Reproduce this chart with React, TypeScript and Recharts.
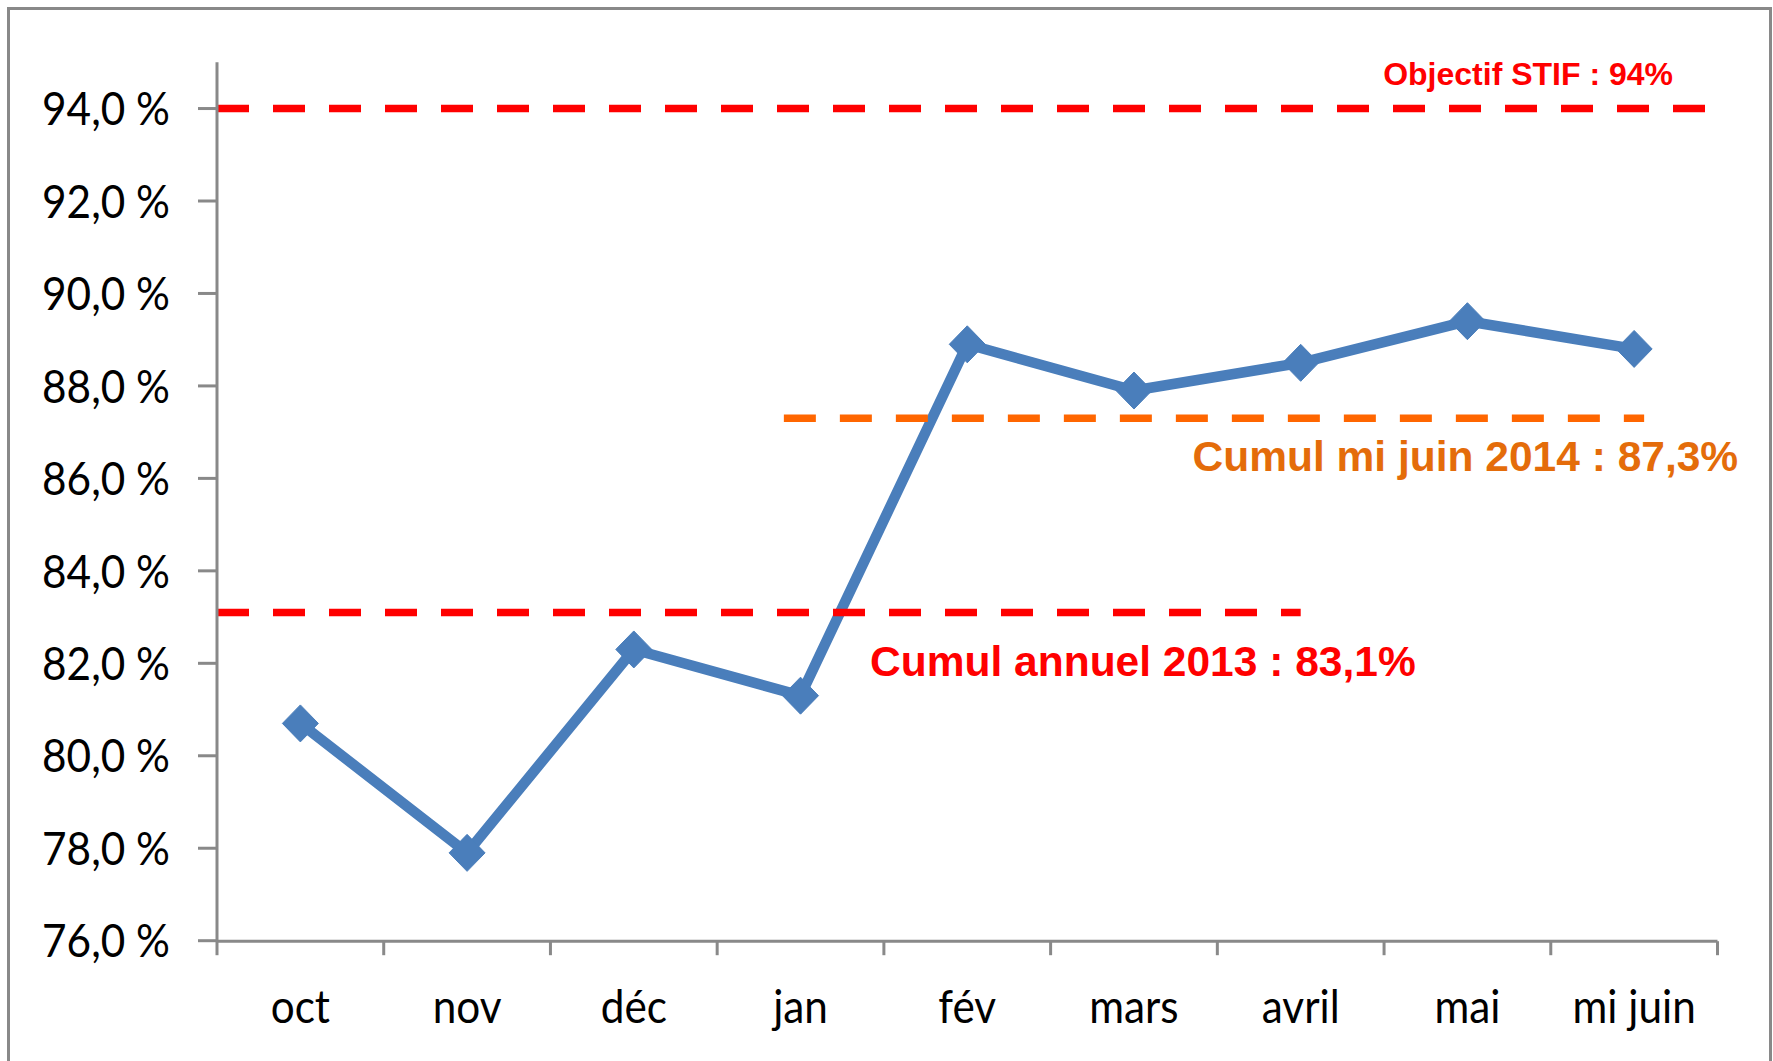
import React from 'react';
import { LineChart, Line, XAxis, YAxis, ReferenceLine } from 'recharts';

// ---- data ----
const months = ['oct', 'nov', 'déc', 'jan', 'fév', 'mars', 'avril', 'mai', 'mi juin'];
const taux = [80.7, 77.9, 82.3, 81.3, 88.9, 87.9, 88.5, 89.4, 88.8];
const yTicks = [76, 78, 80, 82, 84, 86, 88, 90, 92, 94];
const yDomain = [76, 95];
const bandEdges = [0, 1, 2, 3, 4, 5, 6, 7, 8, 9];
const bandDomain = [0, 9];

const objectifValue = 94;
const objectifText = 'Objectif STIF : 94%';
const cumul2013Value = 83.1;
const cumul2013Span = [0, 6.5];
const cumul2013Text = 'Cumul annuel 2013 : 83,1%';
const cumul2014Value = 87.3;
const cumul2014Span = [3.4, 8.56];
const cumul2014Text = 'Cumul mi juin 2014 : 87,3%';

const data = months.map((m, i) => ({ month: m, idx: i, value: taux[i] }));

// ---- styles ----
const W = 1773;
const H = 1061;
const AXIS = '#898989';
const BLUE = '#4A7EBB';
const RED = '#FF0000';
const ORANGE_LINE = '#FF6600';
const ORANGE_TEXT = '#E46C0A';
const TICK_FONT = 'Lato, "Open Sans", sans-serif';
const NOTE_FONT = '"Liberation Sans", Arial, sans-serif';

const fmt = (v: number) => v.toFixed(1).replace('.', ',') + ' %';

const YTick = (props: any) => {
  const { x, y, payload } = props;
  return (
    <g transform={`translate(${x},${y})`}>
      <text x={0} y={0} dy="0.355em" textAnchor="end" fontFamily={TICK_FONT} fontSize={47} fill="#000" transform="scale(0.9,1)">
        {fmt(payload.value)}
      </text>
    </g>
  );
};

const XTick = (props: any) => {
  const { x, y, payload } = props;
  return (
    <g transform={`translate(${x},${y})`}>
      <text x={0} y={0} dy={82} textAnchor="middle" fontFamily={TICK_FONT} fontSize={47} fill="#000" transform="scale(0.9,1)">
        {payload.value}
      </text>
    </g>
  );
};

const NoLabel = () => <g />;

const Diamond = (props: any) => {
  const { cx, cy } = props;
  if (cx == null || cy == null) return null;
  const hw = 18;
  const hh = 18.5;
  return (
    <polygon
      points={`${cx},${cy - hh} ${cx + hw},${cy} ${cx},${cy + hh} ${cx - hw},${cy}`}
      fill={BLUE}
      stroke={BLUE}
      strokeWidth={1}
      strokeLinejoin="round"
    />
  );
};

const noteLabel = (text: string, color: string, size: number, dx: number, dy: number) => (props: any) => {
  const vb = props.viewBox || {};
  const x = (vb.x || 0) + (vb.width || 0) + dx;
  const y = (vb.y || 0) + dy;
  return (
    <text x={x} y={y} textAnchor="end" fill={color} fontSize={size} fontWeight="bold" fontFamily={NOTE_FONT}>
      {text}
    </text>
  );
};

export default function App() {
  return (
    <div style={{ position: 'absolute', left: 0, top: 0, width: W, height: H, overflow: 'hidden', background: '#fff' }}>
      <div
        style={{
          position: 'absolute',
          left: 7,
          top: 7,
          width: W - 8,
          height: H + 50,
          border: `3px solid ${AXIS}`,
          boxSizing: 'border-box',
        }}
      />
      <div style={{ position: 'absolute', left: 0, top: 0 }}>
        <LineChart width={W} height={H} data={data} margin={{ top: 62.3, right: 55.5, bottom: 0, left: 0 }}>
          <XAxis
            xAxisId="cat"
            dataKey="month"
            type="category"
            scale="band"
            height={0.5}
            axisLine={false}
            tickLine={false}
            tickSize={0}
            tickMargin={0}
            interval={0}
            tick={<XTick />}
          />
          <XAxis
            xAxisId="num"
            dataKey="idx"
            type="number"
            domain={bandDomain}
            ticks={bandEdges}
            allowDataOverflow
            interval={0}
            height={119.8}
            tick={<NoLabel />}
            tickSize={14}
            axisLine={{ stroke: AXIS, strokeWidth: 3 }}
            tickLine={{ stroke: AXIS, strokeWidth: 3 }}
          />
          <YAxis
            domain={yDomain}
            ticks={yTicks}
            type="number"
            allowDataOverflow
            width={217}
            tickSize={19}
            tickMargin={28}
            interval={0}
            axisLine={{ stroke: AXIS, strokeWidth: 3 }}
            tickLine={{ stroke: AXIS, strokeWidth: 3 }}
            tick={<YTick />}
          />
          <Line
            xAxisId="cat"
            dataKey="value"
            stroke={BLUE}
            strokeWidth={10.5}
            strokeLinejoin="round"
            dot={<Diamond />}
            activeDot={false}
            isAnimationActive={false}
          />
          <ReferenceLine
            xAxisId="num"
            y={objectifValue}
            stroke={RED}
            strokeWidth={7.5}
            strokeDasharray="32 24"
            label={noteLabel(objectifText, RED, 32, -44.5, -23.5)}
          />
          <ReferenceLine
            xAxisId="num"
            segment={[
              { x: cumul2013Span[0], y: cumul2013Value },
              { x: cumul2013Span[1], y: cumul2013Value },
            ]}
            stroke={RED}
            strokeWidth={7.5}
            strokeDasharray="32 24"
            label={noteLabel(cumul2013Text, RED, 42.5, 115, 64)}
          />
          <ReferenceLine
            xAxisId="num"
            segment={[
              { x: cumul2014Span[0], y: cumul2014Value },
              { x: cumul2014Span[1], y: cumul2014Value },
            ]}
            stroke={ORANGE_LINE}
            strokeWidth={7.5}
            strokeDasharray="32 24"
            label={noteLabel(cumul2014Text, ORANGE_TEXT, 42.5, 94, 52.7)}
          />
        </LineChart>
      </div>
    </div>
  );
}
